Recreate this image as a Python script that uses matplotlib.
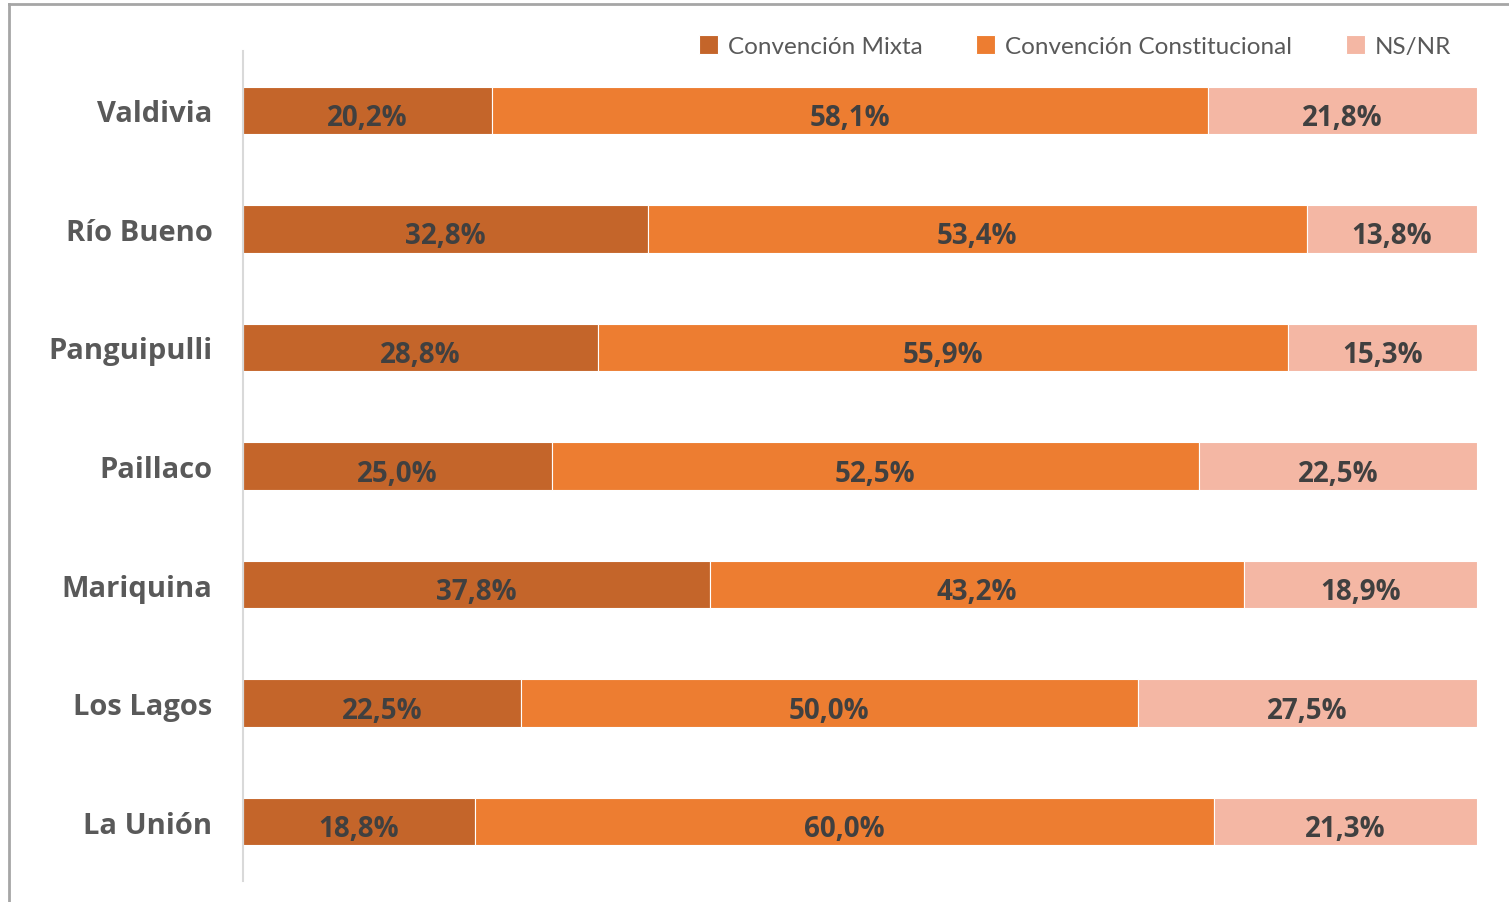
import matplotlib
matplotlib.use("Agg")
from matplotlib import pyplot as plt
from matplotlib.lines import Line2D
import numpy as np

# data, top to bottom as in the chart
comunas = ["Valdivia", "Río Bueno", "Panguipulli", "Paillaco", "Mariquina", "Los Lagos", "La Unión"]
mixta = [20.2, 32.8, 28.8, 25.0, 37.8, 22.5, 18.8]
constitucional = [58.1, 53.4, 55.9, 52.5, 43.2, 50.0, 60.0]
nsnr = [21.8, 13.8, 15.3, 22.5, 18.9, 27.5, 21.3]
series_names = ["Convención Mixta", "Convención Constitucional", "NS/NR"]
colors = ["#C4652A", "#ED7D31", "#F4B7A4"]

series = np.array([mixta, constitucional, nsnr])
totals = series.sum(axis=0)
shares = series / totals * 100  # 100% stacked

fig = plt.figure(figsize=(15.09, 9.03), dpi=100)
ax = fig.add_axes([243 / 1509, 21 / 903, 1234 / 1509, 830 / 903])

y = np.arange(len(comunas))[::-1]
left = np.zeros(len(comunas))
for i in range(3):
    bars = ax.barh(y, shares[i], left=left, height=0.4, color=colors[i],
                   edgecolor="white", linewidth=0.8, label=series_names[i])
    for b, v, l, s in zip(bars, series[i], left, shares[i]):
        ax.text(l + s / 2, b.get_y() + b.get_height() / 2 - 0.06,
                ("%.1f%%" % v).replace(".", ","), ha="center", va="center",
                fontsize=20, fontweight="bold", color="#404040", family="Open Sans")
    left = left + shares[i]

ax.set_xlim(0, 100)
ax.set_ylim(-0.5, len(comunas) - 0.5)
ax.set_yticks(y)
ax.set_yticklabels(comunas, fontsize=21, fontweight="bold", color="#595959", family="Open Sans")
ax.tick_params(axis="y", length=0, pad=22)
ax.set_xticks([])
for s in ["top", "right", "bottom"]:
    ax.spines[s].set_visible(False)
ax.spines["left"].set_color("#D9D9D9")
ax.spines["left"].set_linewidth(1.5)

leg = fig.legend(loc="center right", bbox_to_anchor=(1473 / 1509, 1 - 47 / 903), ncol=3,
                 frameon=False, handlelength=0.8, handleheight=0.8, handletextpad=0.4,
                 columnspacing=2.2, prop={"family": "Lato", "size": 17.5})
for t in leg.get_texts():
    t.set_color("#595959")

# outer border (left and top visible)
fig.add_artist(Line2D([9 / 1509, 9 / 1509], [0, 1 - 5 / 903], transform=fig.transFigure,
                      color="#A6A6A6", linewidth=2))
fig.add_artist(Line2D([9 / 1509, 1], [1 - 5 / 903, 1 - 5 / 903], transform=fig.transFigure,
                      color="#A6A6A6", linewidth=2))

fig.savefig("out.png", dpi=100)
